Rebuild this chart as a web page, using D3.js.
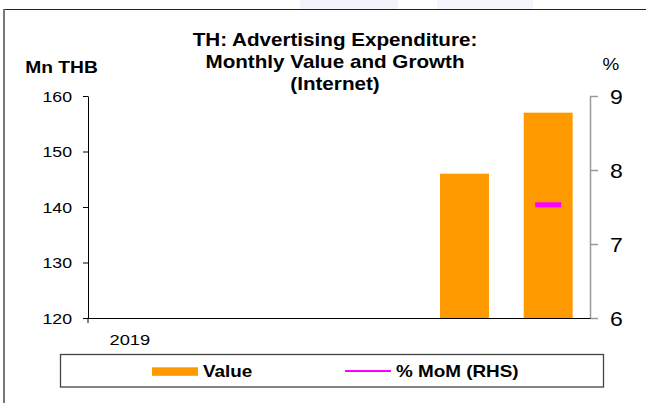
<!DOCTYPE html>
<html>
<head>
<meta charset="utf-8">
<script src="https://cdn.jsdelivr.net/npm/d3@7"></script>
<style>
  body { margin:0; background:#fff; }
  svg { display:block; font-family:Arial, "Liberation Sans", sans-serif; }
</style>
</head>
<body>
<div id="chart_container"></div>
<script>
// Data.
var month_array      = ["m1", "m2", "m3", "m4", "m5", "m6"];
var tick_label_array = ["2019", "", "", "", "", ""];
var value_array      = [null, null, null, null, 146, 157];
var mom_array        = [null, null, null, null, null, 7.53];

var left_ticks  = [120, 130, 140, 150, 160];
var right_ticks = [6, 7, 8, 9];

var dimension = { height:403, width:646 };
var plot      = { left:88, right:590, top:96, bottom:318 };
// The original picture is a little stretched sideways, so text is too.
var stretch   = 1.18;

var svg = d3.select("#chart_container").append("svg")
  .attr("height", dimension.height)
  .attr("width" , dimension.width);

function add_text (_x, _y, _anchor, _size, _weight, _label) {
  return svg.append("text")
    .attr("transform", "translate(" + _x + "," + _y + ") scale(" + stretch + ",1)")
    .attr("text-anchor", _anchor)
    .style("font-size", _size + "px")
    .style("font-weight", _weight)
    .style("fill", "#000")
    .text(_label);
}

// faint watermark at top
svg.append("rect").attr("x", 300).attr("y", 0).attr("width", 98).attr("height", 9).style("fill", "#f3f4fb");
svg.append("rect").attr("x", 437).attr("y", 0).attr("width", 96).attr("height", 9).style("fill", "#f5f5fb");

// outer frame
svg.append("line").attr("x1", 3).attr("y1", 9.5).attr("x2", 646).attr("y2", 9.5).style("stroke", "#222").style("stroke-width", 1);
svg.append("line").attr("x1", 4).attr("y1", 9).attr("x2", 4).attr("y2", 403).style("stroke", "#777").style("stroke-width", 2);

var scale_x = d3.scaleBand().domain(month_array).range([plot.left, plot.right])
  .paddingInner(0.415).paddingOuter(0.2075);
var scale_y_left  = d3.scaleLinear().domain([120, 160]).range([plot.bottom, plot.top]);
var scale_y_right = d3.scaleLinear().domain([6, 9]).range([plot.bottom, plot.top]);

// bars
svg.selectAll(".bar_value")
  .data(month_array.map(function (d, i) { return { m:d, v:value_array[i] }; }).filter(function (d) { return d.v != null; }))
  .enter().append("rect")
  .attr("class" , "bar_value")
  .attr("x"     , function (d) { return scale_x(d.m); })
  .attr("y"     , function (d) { return scale_y_left(d.v); })
  .attr("width" , scale_x.bandwidth())
  .attr("height", function (d) { return plot.bottom - scale_y_left(d.v); })
  .style("fill", "#ff9900");

// MoM marker (single point, drawn as dash)
svg.selectAll(".mom_marker")
  .data(month_array.map(function (d, i) { return { m:d, v:mom_array[i] }; }).filter(function (d) { return d.v != null; }))
  .enter().append("rect")
  .attr("class" , "mom_marker")
  .attr("x"     , function (d) { return scale_x(d.m) + scale_x.bandwidth()/2 - 13; })
  .attr("y"     , function (d) { return scale_y_right(d.v) - 2.5; })
  .attr("width" , 26)
  .attr("height", 5)
  .style("fill", "#ff00ff");

// left axis
var axis_left = svg.append("g")
  .attr("transform", "translate(" + plot.left + ",0)")
  .call(d3.axisLeft(scale_y_left).tickValues(left_ticks).tickSize(5).tickSizeOuter(0));
axis_left.select(".domain").style("stroke", "#000");
axis_left.selectAll("line").style("stroke", "#000");
axis_left.selectAll("text")
  .attr("font-family", null)
  .attr("x", -16/stretch)
  .attr("dy", "0.34em")
  .attr("transform", "scale(" + stretch + ",1)")
  .style("font-size", "15px").style("fill", "#000");

// right axis
var axis_right = svg.append("g")
  .attr("transform", "translate(" + plot.right + ",0)")
  .call(d3.axisRight(scale_y_right).tickValues(right_ticks).tickSize(8).tickSizeOuter(0).tickFormat(d3.format("d")));
axis_right.select(".domain").style("stroke", "#999").style("stroke-width", 1.5);
axis_right.selectAll("line").style("stroke", "#999").style("stroke-width", 1.5);
axis_right.selectAll("text")
  .attr("font-family", null)
  .attr("x", 20/stretch)
  .attr("dy", "0.36em")
  .attr("transform", "scale(" + stretch + ",1)")
  .style("font-size", "19.5px").style("fill", "#000");

// bottom axis
var axis_bottom = svg.append("g")
  .attr("transform", "translate(0," + plot.bottom + ")")
  .call(d3.axisBottom(scale_x).tickSize(0).tickSizeOuter(0)
    .tickFormat(function (d, i) { return tick_label_array[i]; }));
axis_bottom.select(".domain").style("stroke", "#000");
axis_bottom.selectAll(".tick").each(function () {
  var tick = d3.select(this);
  var tx   = Number(tick.attr("transform").match(/translate\(([-\d.]+)/)[1]);
  tick.select("text")
    .attr("font-family", null)
    .attr("x", 0).attr("y", 0).attr("dy", null)
    .attr("transform", "translate(0,27) scale(" + stretch + ",1)")
    .style("font-size", "15.5px").style("fill", "#000");
});
svg.append("line").attr("x1", plot.left).attr("x2", plot.left).attr("y1", plot.bottom).attr("y2", plot.bottom + 5).style("stroke", "#000");

// titles
var title_lines = ["TH: Advertising Expenditure:", "Monthly Value and Growth", "(Internet)"];
title_lines.forEach(function (d, i) {
  add_text(335, 46 + i*22, "middle", 17.5, "bold", d);
});

add_text(61.5, 73, "middle", 16.3, "bold", "Mn THB");
add_text(611, 70, "middle", 16, "normal", "%");

// legend
svg.append("rect").attr("x", 60.5).attr("y", 354.5).attr("width", 543).attr("height", 32.5)
  .style("fill", "none").style("stroke", "#444").style("stroke-width", 1.3);
svg.append("rect").attr("x", 152).attr("y", 367.3).attr("width", 46).attr("height", 8.5).style("fill", "#ff9900");
add_text(203, 376.7, "start", 16, "bold", "Value");
svg.append("line").attr("x1", 345).attr("x2", 391).attr("y1", 371).attr("y2", 371).style("stroke", "#ff00ff").style("stroke-width", 2);
add_text(396, 376.7, "start", 16, "bold", "% MoM (RHS)");
</script>
</body>
</html>
